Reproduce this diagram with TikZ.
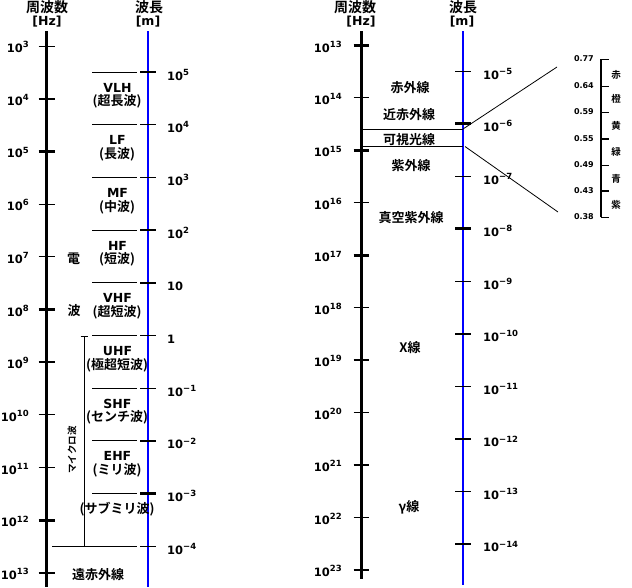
\documentclass[tikz,border=0pt]{standalone}
\usepackage{fontspec}
\setmainfont{DejaVu Sans}
\newfontfamily\jp{Noto Sans CJK JP Bold}
\newcommand\supx[1]{\raisebox{4.8pt}{\fontsize{8.5}{8.5}\selectfont #1}}
\begin{document}
\begin{tikzpicture}[x=1pt,y=-1pt,
  freqax/.style={line width=3pt,black},
  waveax/.style={line width=2.5pt,blue},
  thk/.style={line width=2.4pt},
  thn/.style={line width=1pt},
  sep/.style={line width=1pt},
  diag/.style={line width=0.8pt},
  jl/.style={font=\jp\fontsize{13}{13}\selectfont,inner sep=0pt},
  jh/.style={font=\jp\fontsize{14}{14}\selectfont,inner sep=0pt},
  jsm/.style={font=\jp\fontsize{9.5}{9.5}\selectfont,inner sep=0pt},
  en/.style={font=\bfseries\fontsize{12.5}{12.5}\selectfont,inner sep=0pt},
  flab/.style={font=\bfseries\fontsize{11.5}{11.5}\selectfont,anchor=base east,inner sep=0pt},
  wlab/.style={font=\bfseries\fontsize{11.5}{11.5}\selectfont,anchor=base west,inner sep=0pt},
  vlab/.style={font=\bfseries\fontsize{8}{8}\selectfont,anchor=east,inner sep=0pt}]
\useasboundingbox (0,0) rectangle (632,587);

% ---------------- headers
\node[jh] (h1) at (47,7) {周波数};
\node[en] (h1u) at (47,22) {[Hz]};
\node[jh] (h2) at (149,7) {波長};
\node[en] (h2u) at (148,22) {[m]};
\node[jh] (h3) at (355,7) {周波数};
\node[en] (h3u) at (361,22) {[Hz]};
\node[jh] (h4) at (463,7) {波長};
\node[en] (h4u) at (462,22) {[m]};

% ---------------- left panel axes
\coordinate (LFt) at (46,31); \coordinate (LFb) at (46,587);
\coordinate (LWt) at (148,31); \coordinate (LWb) at (148,587);
\draw[freqax] (LFt) -- (LFb);
\draw[waveax] (LWt) -- (LWb);

\foreach \e/\w in {3/thn,4/thk,5/thk,6/thn,7/thn,8/thk,9/thk,10/thn,11/thn,12/thk,13/thk}{
  \pgfmathsetmacro\yy{46+52.7*(\e-3)}
  \draw[\w] (38.5,\yy) -- (54.5,\yy);
  \node[flab] (lf\e) at (29,\yy+6.5) {10\supx{\e}};
}

\foreach \i/\w/\t in {0/thk/{10\supx{5}},1/thn/{10\supx{4}},2/thn/{10\supx{3}},3/thk/{10\supx{2}},4/thk/{10},5/thn/{1},6/thn/{10\supx{−1}},7/thk/{10\supx{−2}},8/thk/{10\supx{−3}},9/thn/{10\supx{−4}}}{
  \pgfmathsetmacro\yy{72+52.7*\i}
  \draw[\w] (140,\yy) -- (155.5,\yy);
  \node[wlab] (lw\i) at (167,\yy+8) {\t};
}

% band separators
\foreach \i in {0,...,8}{
  \pgfmathsetmacro\yy{72+52.7*\i}
  \draw[sep] (92,\yy) -- (136.5,\yy);
}
\coordinate (mwL) at (52,546.3); \coordinate (mwR) at (136.5,546.3);
\draw[sep] (mwL) -- (mwR);
% microwave bracket
\coordinate (mwT) at (84,336.5); \coordinate (mwB) at (84,546.3);
\draw[sep] (mwT) -- (mwB);
\draw[sep] (80.5,336.5) -- (87.5,336.5);
\node[jsm,rotate=90] (mw) at (72,450) {マイクロ波};

% band labels
\foreach \i/\a/\b in {0/VLH/(超長波),1/LF/(長波),2/MF/(中波),3/HF/(短波),4/VHF/(超短波),5/UHF/(極超短波),6/SHF/(センチ波),7/EHF/(ミリ波)}{
  \pgfmathsetmacro\yy{87.5+52.7*\i}
  \node[en] (b\i) at (117.5,\yy) {\a};
  \node[jl] (bj\i) at (117,\yy+14) {\b};
}
\node[jl] (bj8) at (117,509) {(サブミリ波)};
\node[jl] (den) at (73.5,259) {電};
\node[jl] (pa) at (74,311) {波};
\node[jl] (fir) at (98,575) {遠赤外線};

% ---------------- right panel axes
\coordinate (RFt) at (361,31); \coordinate (RFb) at (361,579);
\coordinate (RWt) at (463,31); \coordinate (RWb) at (463,585);
\draw[freqax] (RFt) -- (RFb);
\draw[waveax] (RWt) -- (RWb);

\foreach \e/\w in {13/thk,14/thn,15/thk,16/thn,17/thk,18/thn,19/thk,20/thn,21/thk,22/thn,23/thk}{
  \pgfmathsetmacro\yy{45.5+52.45*(\e-13)}
  \draw[\w] (353.5,\yy) -- (368.5,\yy);
  \node[flab] (rf\e) at (342,\yy+6.5) {10\supx{\e}};
}

\foreach \i/\w/\t in {0/thn/5,1/thk/6,2/thn/7,3/thk/8,4/thn/9,5/thk/10,6/thn/11,7/thk/12,8/thn/13,9/thk/14}{
  \pgfmathsetmacro\yy{71+52.55*\i}
  \draw[\w] (455,\yy) -- (470.5,\yy);
  \node[wlab] (rw\i) at (483,\yy+8) {10\supx{−\t}};
}

% visible band lines
\coordinate (vTL) at (361,129); \coordinate (vTR) at (463,129);
\coordinate (vBL) at (361,146); \coordinate (vBR) at (463,146);
\draw[sep] (vTL) -- (vTR);
\draw[sep] (vBL) -- (vBR);
\coordinate (dT) at (557,67); \coordinate (dB) at (558,212);
\coordinate (vB2) at (465,146.5);
\draw[diag] (vTR) -- (dT);
\draw[diag] (vB2) -- (dB);

% right labels
\node[jl] (ir) at (410,87.5) {赤外線};
\node[jl] (nir) at (409,114.5) {近赤外線};
\node[jl] (vis) at (409,139.5) {可視光線};
\node[jl] (uv) at (411,166) {紫外線};
\node[jl] (vuv) at (411,218) {真空紫外線};
\node[jl] (xr) at (410,348) {X線};
\node[jl] (gr) at (409,507) {γ線};

% visible scale
\coordinate (sT) at (601,59); \coordinate (sB) at (601,217);
\draw[line width=1.5pt] (sT) -- (sB);
\foreach \v/\yy/\w in {0.77/59/thn,0.64/86/thn,0.59/112/thn,0.55/139/thk,0.49/165/thn,0.43/191/thk,0.38/217/thn}{
  \draw[\w] (600.5,\yy) -- (609,\yy);
  \node[vlab] at (594,\yy) {\v};
}
\foreach \c/\yy in {赤/75,橙/99,黄/126,緑/152,青/178.5,紫/205}{
  \node[jsm] at (616,\yy) {\c};
}
\end{tikzpicture}
\end{document}
